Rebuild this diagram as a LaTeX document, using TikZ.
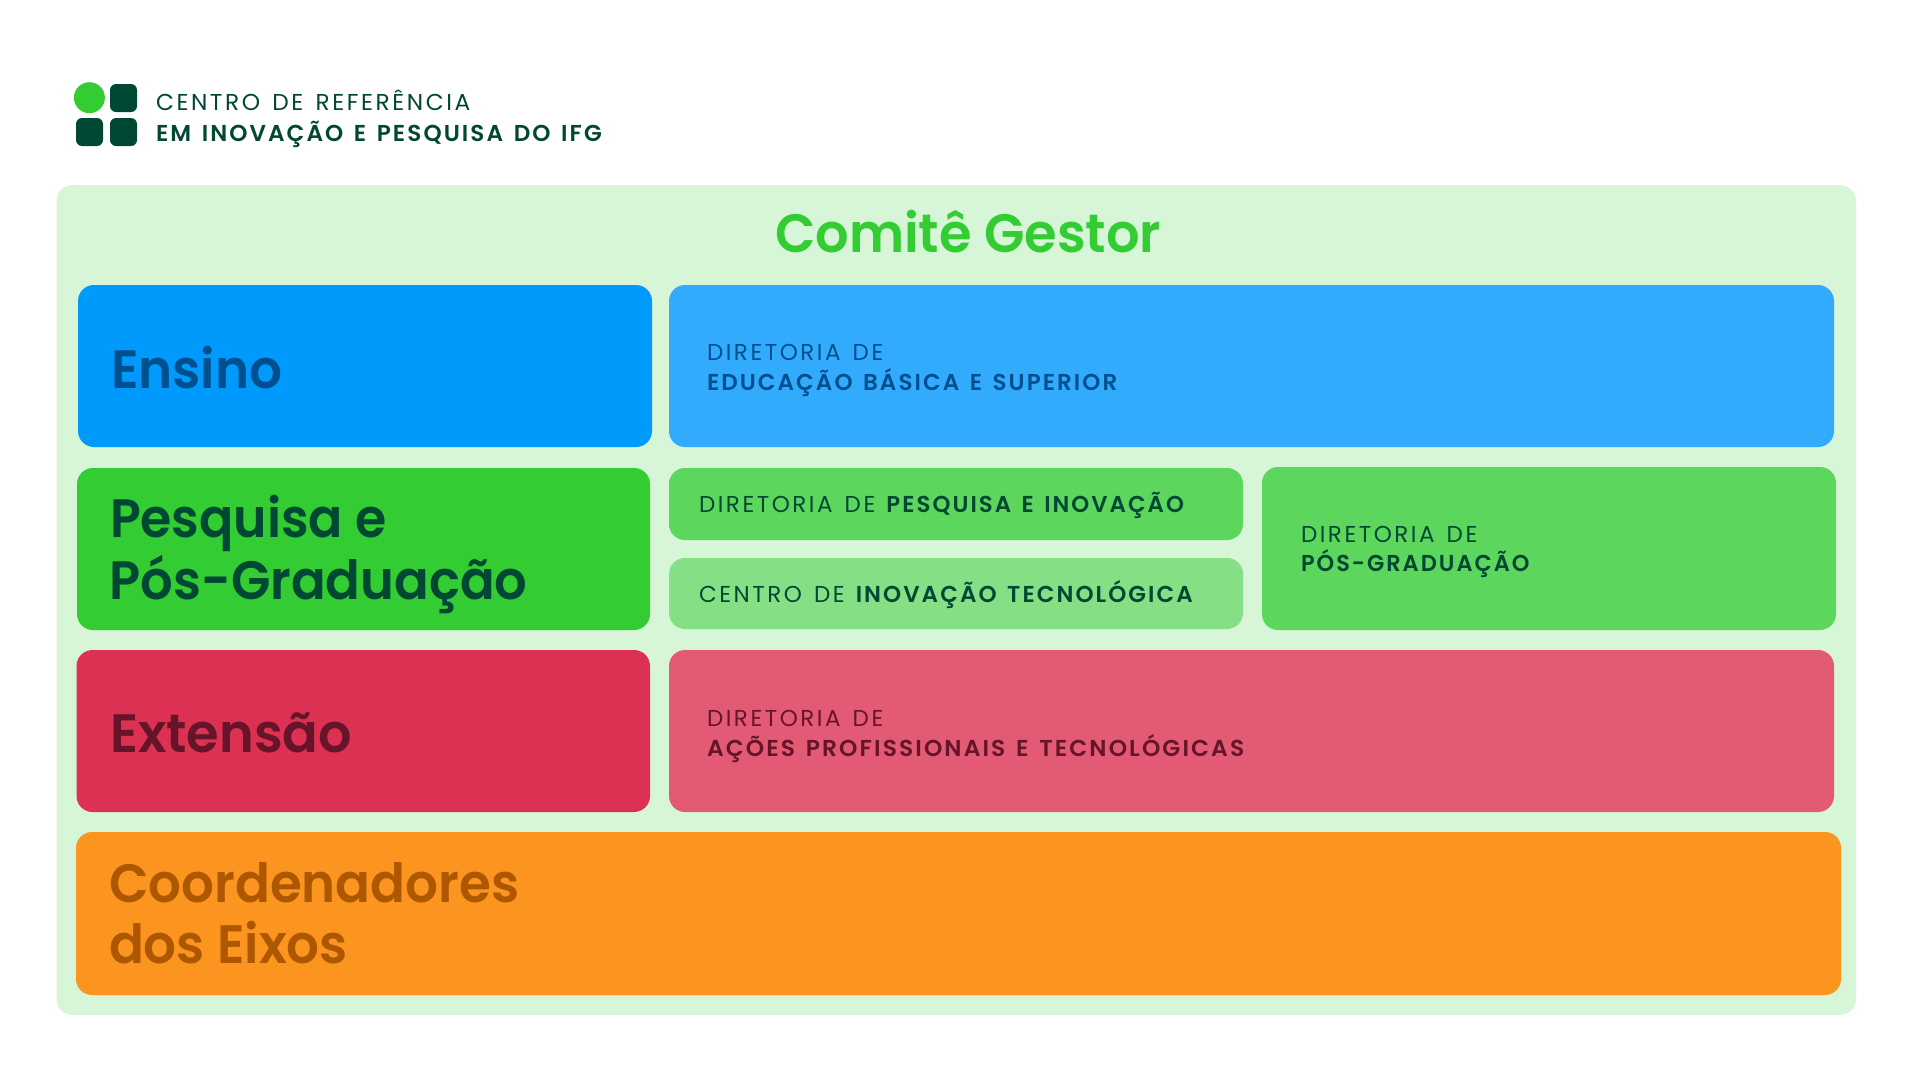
\documentclass[tikz,border=0pt]{standalone}
\usepackage{fontspec}
\setmainfont{Poppins}
\newfontfamily\smallf[LetterSpace=11,WordSpace=1.4,BoldFont={Poppins SemiBold},BoldFeatures={LetterSpace=9}]{Poppins}
\newfontfamily\bigf{Poppins SemiBold}
\definecolor{panel}{HTML}{D7F5D7}
\definecolor{cblue}{HTML}{0099FC}
\definecolor{cbluel}{HTML}{33ABFD}
\definecolor{cgreen}{HTML}{33CC33}
\definecolor{cgreenl}{HTML}{5CD65C}
\definecolor{cgreenx}{HTML}{85E085}
\definecolor{cred}{HTML}{DC3152}
\definecolor{credl}{HTML}{E35A75}
\definecolor{corange}{HTML}{FB951F}
\definecolor{tgreen}{HTML}{004833}
\definecolor{tblue}{HTML}{00508F}
\definecolor{tred}{HTML}{661429}
\definecolor{torange}{HTML}{AD5700}
\tikzset{x=1pt,y=-1pt,
 bx/.style={rectangle,draw=none,inner sep=0pt,outer sep=0pt,anchor=north west,rounded corners=16pt},
 big/.style={anchor=base west,inner sep=0pt,outer sep=0pt,font=\bigf\fontsize{54}{54}\selectfont},
 small/.style={anchor=base west,inner sep=0pt,outer sep=0pt,font=\smallf\fontsize{23}{23}\selectfont},
 logosq/.style={rounded corners=6pt}}
\newcommand{\bxn}[7][]{\node[bx,#1,fill=#7,minimum width={(#5-#3)*1pt},minimum height={(#6-#4)*1pt}] (#2) at (#3,#4) {};}
\newcommand{\hs}[2]{\scalebox{#1}[1]{#2}}
\begin{document}
\begin{tikzpicture}
\useasboundingbox (0,0) rectangle (1920,1080);
\fill[white] (0,0) rectangle (1920,1080);
% logo
\node[circle,fill=cgreen,minimum size=31pt,inner sep=0pt] (logoa) at (89.4,97.7) {};
\bxn[logosq]{logob}{110}{84}{137}{112}{tgreen}
\bxn[logosq]{logoc}{76}{118}{103}{146}{tgreen}
\bxn[logosq]{logod}{110}{118}{137}{146}{tgreen}
\node[small,text=tgreen] (t1) at (156,110.7) {\hs{1.012}{CENTRO DE REFERÊNCIA}};
\node[small,text=tgreen] (t2) at (156,141.7) {\bfseries\hs{1.005}{EM INOVAÇÃO E PESQUISA DO IFG}};
% panel
\bxn{panelbox}{56.5}{185}{1856}{1015}{panel}
\node[big,text=cgreen] (title) at (775,252) {\hs{.975}{Comitê Gestor}};
\bxn{ensino}{78}{285}{652}{447}{cblue}
\bxn{dired}{669}{285}{1834}{447}{cbluel}
\bxn{pesq}{77}{468}{650}{630}{cgreen}
\bxn{dirpesq}{669}{468}{1243}{540}{cgreenl}
\bxn{centro}{669}{558}{1243}{629}{cgreenx}
\bxn{dirpos}{1262}{467}{1836}{630}{cgreenl}
\bxn{ext}{76.5}{650}{650}{812}{cred}
\bxn{dirext}{669}{650}{1834}{812}{credl}
\bxn{coord}{76}{832}{1841}{995}{corange}
\node[big,text=tblue] (l1) at (111,388) {\hs{.957}{Ensino}};
\node[big,text=tgreen] (l2) at (110,537) {\hs{.937}{Pesquisa e}};
\node[big,text=tgreen] (l3) at (109.5,599) {\hs{.949}{Pós-Graduação}};
\node[big,text=tred] (l4) at (110,752) {\hs{.975}{Extensão}};
\node[big,text=torange] (l5) at (109,902) {\hs{.954}{Coordenadores}};
\node[big,text=torange] (l6) at (109,963) {\hs{.955}{dos Eixos}};
\node[small,text=tblue] (s1) at (707,360) {DIRETORIA DE};
\node[small,text=tblue] (s2) at (707,390) {\bfseries EDUCAÇÃO BÁSICA E SUPERIOR};
\node[small,text=tgreen] (s3) at (699,512) {DIRETORIA DE\hspace{-1pt} \textbf{\hs{.992}{PESQUISA E INOVAÇÃO}}};
\node[small,text=tgreen] (s4) at (699,602) {CENTRO DE\hspace{-1pt} \textbf{INOVAÇÃO TECNOLÓGICA}};
\node[small,text=tgreen] (s5) at (1301,542) {DIRETORIA DE};
\node[small,text=tgreen] (s6) at (1301,571) {\bfseries\hs{.975}{PÓS-GRADUAÇÃO}};
\node[small,text=tred] (s7) at (707,726) {DIRETORIA DE};
\node[small,text=tred] (s8) at (707,756) {\bfseries\hs{1.016}{AÇÕES PROFISSIONAIS E TECNOLÓGICAS}};
\end{tikzpicture}
\end{document}
